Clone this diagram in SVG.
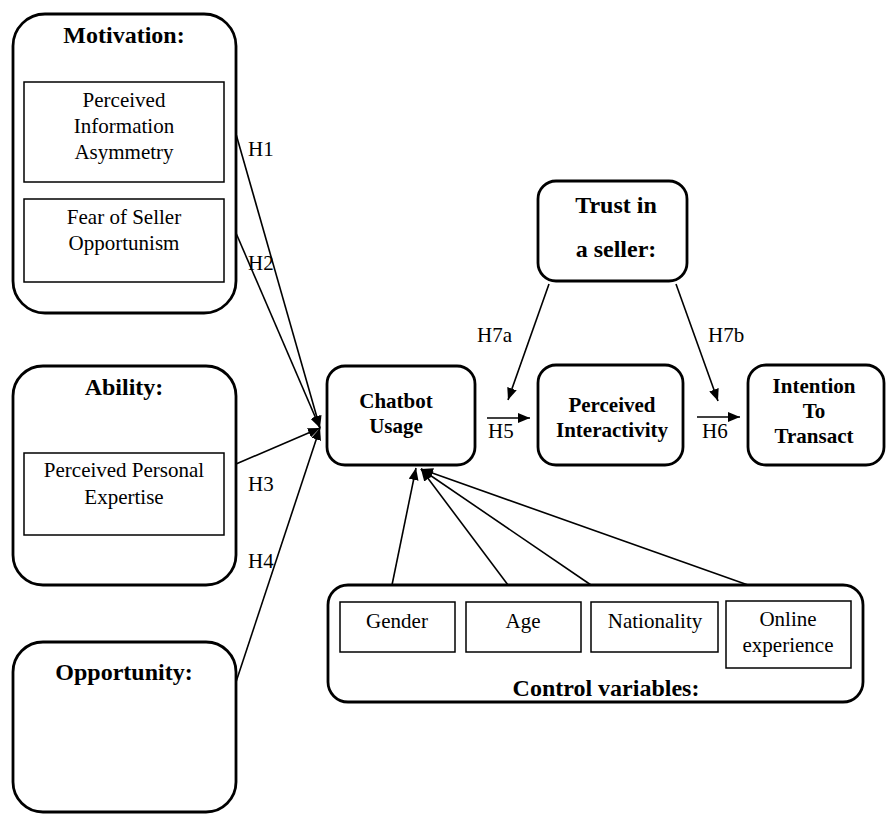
<svg xmlns="http://www.w3.org/2000/svg" width="886" height="814" viewBox="0 0 886 814">
<style>
.outer{fill:#fff;stroke:#000;stroke-width:2.8}
.inner{fill:#fff;stroke:#000;stroke-width:1.5}
.t{font-family:"Liberation Serif","Times New Roman",serif;fill:#000;text-anchor:middle}
.b{font-weight:bold}
.r{font-size:21px}
.ttl{font-size:24px}
.lbl{font-size:21px}
.h{font-family:"Liberation Serif","Times New Roman",serif;font-size:21px;fill:#000}
.c{stroke:#000;stroke-width:1.6;fill:none;marker-end:url(#ah)}
</style>
<defs>
<marker id="ah" viewBox="0 0 12 10" refX="12" refY="5" markerWidth="12" markerHeight="10" markerUnits="userSpaceOnUse" orient="auto">
<path d="M0,0 L12,5 L0,10 Z" fill="#000"/>
</marker>
</defs>
<rect width="886" height="814" fill="#fff"/>

<g id="motivation">
<rect class="outer" x="13" y="14" width="223" height="299" rx="32"/>
<text class="t b ttl" x="124" y="43">Motivation:</text>
<rect class="inner" x="24" y="82" width="200" height="100"/>
<text class="t r" x="124" y="107">Perceived</text>
<text class="t r" x="124" y="133">Information</text>
<text class="t r" x="124" y="159">Asymmetry</text>
<rect class="inner" x="24" y="199" width="200" height="83"/>
<text class="t r" x="124" y="224">Fear of Seller</text>
<text class="t r" x="124" y="250">Opportunism</text>
</g>

<g id="ability">
<rect class="outer" x="13" y="366" width="223" height="219" rx="30"/>
<text class="t b ttl" x="124" y="395">Ability:</text>
<rect class="inner" x="24" y="453" width="200" height="82"/>
<text class="t r" x="124" y="477">Perceived Personal</text>
<text class="t r" x="124" y="504">Expertise</text>
</g>

<g id="opportunity">
<rect class="outer" x="13" y="642" width="223" height="170" rx="30"/>
<text class="t b ttl" x="124" y="680">Opportunity:</text>
</g>

<g id="trust">
<rect class="outer" x="538" y="181" width="149" height="100" rx="18"/>
<text class="t b ttl" x="616" y="213">Trust in</text>
<text class="t b ttl" x="616" y="257">a seller:</text>
</g>

<g id="chatbot">
<rect class="outer" x="327" y="366" width="148" height="99" rx="18"/>
<text class="t b lbl" x="396" y="408">Chatbot</text>
<text class="t b lbl" x="396" y="433">Usage</text>
</g>

<g id="interactivity">
<rect class="outer" x="538" y="365" width="145" height="100" rx="18"/>
<text class="t b lbl" x="612" y="412">Perceived</text>
<text class="t b lbl" x="612" y="437">Interactivity</text>
</g>

<g id="intention">
<rect class="outer" x="748" y="365" width="136" height="100" rx="18"/>
<text class="t b lbl" x="814" y="393">Intention</text>
<text class="t b lbl" x="814" y="418">To</text>
<text class="t b lbl" x="814" y="443">Transact</text>
</g>

<g id="controls">
<rect class="outer" x="328" y="585" width="535" height="117" rx="20"/>
<rect class="inner" x="340" y="602" width="115" height="50"/>
<text class="t r" x="397" y="628">Gender</text>
<rect class="inner" x="466" y="602" width="115" height="50"/>
<text class="t r" x="523" y="628">Age</text>
<rect class="inner" x="591" y="602" width="127" height="50"/>
<text class="t r" x="655" y="628">Nationality</text>
<rect class="inner" x="726" y="601" width="125" height="67"/>
<text class="t r" x="788" y="626">Online</text>
<text class="t r" x="788" y="652">experience</text>
<text class="t b ttl" x="606" y="696">Control variables:</text>
</g>

<g id="connectors">
<line class="c" x1="236" y1="134" x2="320" y2="428"/>
<line class="c" x1="236" y1="233" x2="320" y2="428"/>
<line class="c" x1="236" y1="464" x2="320" y2="428"/>
<line class="c" x1="236" y1="682" x2="320" y2="428"/>
<line class="c" x1="487" y1="418" x2="530" y2="418"/>
<line class="c" x1="697" y1="417" x2="740" y2="417"/>
<line class="c" x1="549" y1="284" x2="508" y2="400"/>
<line class="c" x1="676" y1="284" x2="718" y2="401"/>
<line class="c" x1="392" y1="585" x2="416" y2="468"/>
<line class="c" x1="508" y1="585" x2="421" y2="469"/>
<line class="c" x1="591" y1="585" x2="421" y2="469"/>
<line class="c" x1="748" y1="585" x2="421" y2="469"/>
<text class="h" x="248" y="156">H1</text>
<text class="h" x="248" y="270">H2</text>
<text class="h" x="248" y="491">H3</text>
<text class="h" x="248" y="568">H4</text>
<text class="h" x="488" y="438">H5</text>
<text class="h" x="702" y="438">H6</text>
<text class="h" x="477" y="342">H7a</text>
<text class="h" x="708" y="342">H7b</text>
</g>
</svg>
